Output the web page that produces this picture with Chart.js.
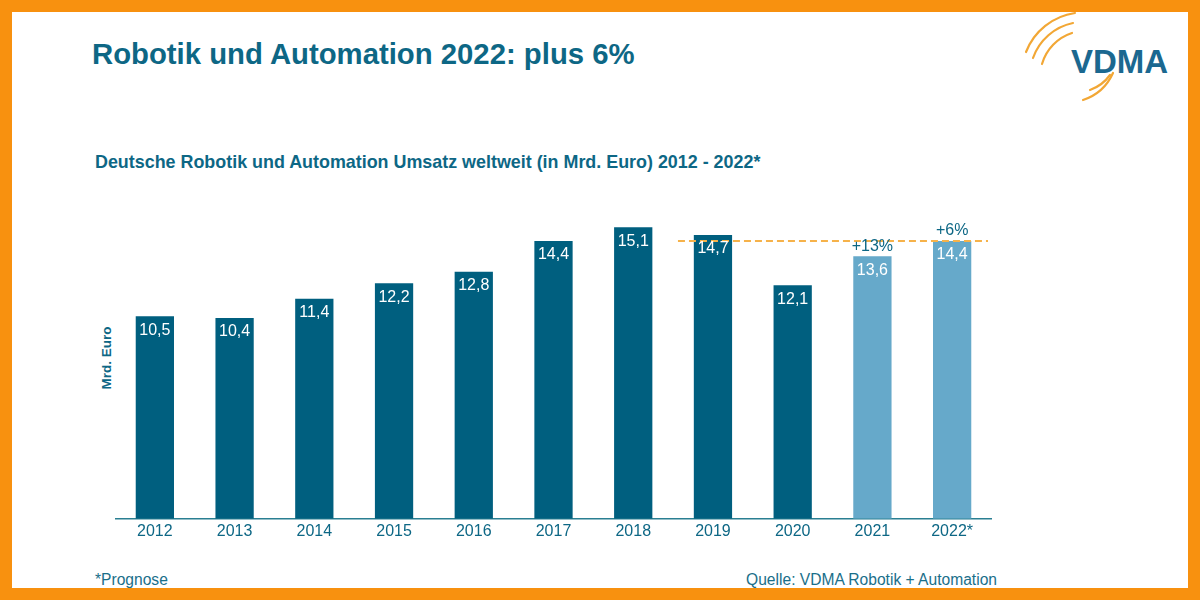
<!DOCTYPE html>
<html>
<head>
<meta charset="utf-8">
<script src="https://cdn.jsdelivr.net/npm/chart.js@4.4.1/dist/chart.umd.min.js"></script>
<style>
  html, body { margin:0; padding:0; }
  body { width:1200px; height:600px; position:relative; overflow:hidden; background:#fff; font-family:"Liberation Sans", Arial, sans-serif; }
  .frame { position:absolute; left:0; top:0; width:1200px; height:600px; box-sizing:border-box; border-style:solid; border-color:#f8910f; border-width:12px 12px 12px 12px; }
  .title { position:absolute; left:92px; top:37px; font-size:29.3px; font-weight:bold; color:#0d6785; white-space:nowrap; }
  .subtitle { position:absolute; left:95px; top:152px; font-size:17.9px; font-weight:bold; color:#0d6785; white-space:nowrap; }
  .ytitle { position:absolute; left:106px; top:358px; font-size:13.5px; font-weight:bold; color:#0d6785; white-space:nowrap; transform:translate(-50%,-50%) rotate(-90deg); }
  .foot { position:absolute; top:571px; font-size:15.6px; color:#1a6f8a; white-space:nowrap; }
  #wrap { position:absolute; left:115px; top:210px; width:877px; height:326px; }
  .logo { position:absolute; left:1015px; top:10px; width:170px; height:100px; }
</style>
</head>
<body>
<div class="title">Robotik und Automation 2022: plus 6%</div>
<div class="subtitle">Deutsche Robotik und Automation Umsatz weltweit (in Mrd. Euro) 2012 - 2022*</div>
<div class="ytitle">Mrd. Euro</div>
<div class="foot" style="left:95px;">*Prognose</div>
<div class="foot" style="right:203px;">Quelle: VDMA Robotik + Automation</div>
<svg class="logo" viewBox="0 0 170 100">
  <g fill="none" stroke="#f2a735" stroke-width="2.2" stroke-linecap="round">
    <path d="M 11 42 A 62 62 0 0 1 60 3"/>
    <path d="M 18 48 A 54 54 0 0 1 58 13"/>
    <path d="M 27 54 A 46 46 0 0 1 57 23"/>
    <path d="M 68 90 A 50 50 0 0 0 98 63"/>
    <path d="M 75 80 A 42 42 0 0 0 95 65"/>
  </g>
  <text x="56" y="63" font-family="Liberation Sans, Arial, sans-serif" font-weight="bold" font-size="33" fill="#1b6890">VDMA</text>
</svg>
<div id="wrap"><canvas id="c"></canvas></div>
<div class="frame"></div>
<script>
const categories = ["2012","2013","2014","2015","2016","2017","2018","2019","2020","2021","2022*"];
const values = [10.5, 10.4, 11.4, 12.2, 12.8, 14.4, 15.1, 14.7, 12.1, 13.6, 14.4];
const growthLabels = ["", "", "", "", "", "", "", "", "", "+13%", "+6%"];
const forecastFlags = [false, false, false, false, false, false, false, false, false, true, true];
const referenceValue = 14.4;

const darkBar = "#005f7f";
const lightBar = "#66a9ca";
const textBlue = "#0d6785";

const labelPlugin = {
  id: "labels",
  afterDatasetsDraw(chart) {
    const ctx = chart.ctx;
    const meta = chart.getDatasetMeta(0);
    const xs = chart.scales.x, ys = chart.scales.y;
    ctx.save();
    const yRef = ys.getPixelForValue(referenceValue);
    const x0 = xs.getPixelForValue(7) - 35;
    const x1 = chart.chartArea.right - 4;
    ctx.strokeStyle = "#f6b24a";
    ctx.lineWidth = 2;
    ctx.setLineDash([7, 4]);
    ctx.beginPath(); ctx.moveTo(x0, yRef); ctx.lineTo(x1, yRef); ctx.stroke();
    ctx.setLineDash([]);
    ctx.font = "16px 'Liberation Sans', Arial, sans-serif";
    ctx.textAlign = "center";
    ctx.textBaseline = "middle";
    meta.data.forEach((bar, i) => {
      ctx.fillStyle = "#ffffff";
      ctx.fillText(values[i].toFixed(1).replace(".", ","), bar.x, bar.y + 14);
      if (growthLabels[i]) {
        ctx.fillStyle = textBlue;
        ctx.fillText(growthLabels[i], bar.x, bar.y - 10);
      }
    });
    ctx.restore();
  }
};

new Chart(document.getElementById("c"), {
  type: "bar",
  data: {
    labels: categories,
    datasets: [{
      data: values,
      backgroundColor: forecastFlags.map(f => f ? lightBar : darkBar),
      categoryPercentage: 1,
      barPercentage: 0.48
    }]
  },
  options: {
    responsive: true,
    maintainAspectRatio: false,
    animation: false,
    layout: { padding: 0 },
    plugins: { legend: { display: false }, tooltip: { enabled: false } },
    scales: {
      y: { display: false, min: 0, max: 16 },
      x: {
        grid: { display: false },
        border: { display: true, color: "#2a7f92", width: 1.5 },
        ticks: { color: textBlue, font: { size: 16, family: "'Liberation Sans', Arial, sans-serif" }, padding: -5 }
      }
    }
  },
  plugins: [labelPlugin]
});
</script>
</body>
</html>
